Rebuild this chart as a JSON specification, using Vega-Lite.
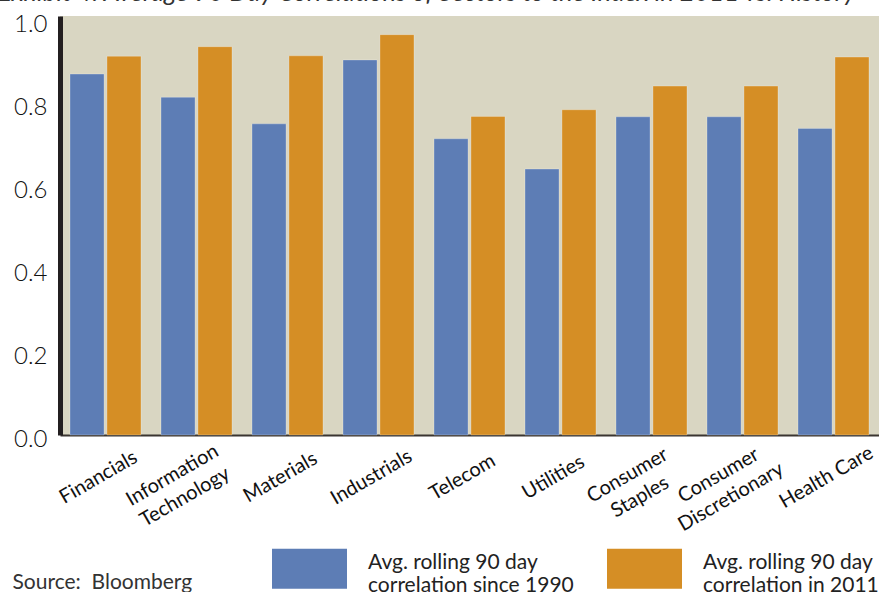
{
  "$schema": "https://vega.github.io/schema/vega-lite/v6.json",
  "autosize": {"type": "none"},
  "width": 819,
  "height": 419,
  "padding": {"left": 60, "top": 16, "right": 0, "bottom": 157},
  "background": "white",
  "config": {
    "view": {"fill": "#d9d6c2", "stroke": null},
    "font": "Lato"
  },
  "title": {
    "text": "Exhibit 4: Average 90 Day Correlations of Sectors to the Index in 2011 vs. History",
    "anchor": "start",
    "frame": "group",
    "fontStyle": "italic",
    "fontWeight": "normal",
    "fontSize": 25.5,
    "color": "#333333",
    "baseline": "alphabetic",
    "offset": 0,
    "dy": 14,
    "dx": -62
  },
  "data": {
    "values": [
      {"sector": "Financials", "series": "Avg. rolling 90 day|correlation since 1990", "value": 0.870},
      {"sector": "Financials", "series": "Avg. rolling 90 day|correlation in 2011", "value": 0.913},
      {"sector": "Information|Technology", "series": "Avg. rolling 90 day|correlation since 1990", "value": 0.814},
      {"sector": "Information|Technology", "series": "Avg. rolling 90 day|correlation in 2011", "value": 0.936},
      {"sector": "Materials", "series": "Avg. rolling 90 day|correlation since 1990", "value": 0.750},
      {"sector": "Materials", "series": "Avg. rolling 90 day|correlation in 2011", "value": 0.914},
      {"sector": "Industrials", "series": "Avg. rolling 90 day|correlation since 1990", "value": 0.904},
      {"sector": "Industrials", "series": "Avg. rolling 90 day|correlation in 2011", "value": 0.965},
      {"sector": "Telecom", "series": "Avg. rolling 90 day|correlation since 1990", "value": 0.714},
      {"sector": "Telecom", "series": "Avg. rolling 90 day|correlation in 2011", "value": 0.768},
      {"sector": "Utilities", "series": "Avg. rolling 90 day|correlation since 1990", "value": 0.641},
      {"sector": "Utilities", "series": "Avg. rolling 90 day|correlation in 2011", "value": 0.784},
      {"sector": "Consumer|Staples", "series": "Avg. rolling 90 day|correlation since 1990", "value": 0.767},
      {"sector": "Consumer|Staples", "series": "Avg. rolling 90 day|correlation in 2011", "value": 0.841},
      {"sector": "Consumer|Discretionary", "series": "Avg. rolling 90 day|correlation since 1990", "value": 0.767},
      {"sector": "Consumer|Discretionary", "series": "Avg. rolling 90 day|correlation in 2011", "value": 0.841},
      {"sector": "Health Care", "series": "Avg. rolling 90 day|correlation since 1990", "value": 0.739},
      {"sector": "Health Care", "series": "Avg. rolling 90 day|correlation in 2011", "value": 0.911}
    ]
  },
  "mark": {"type": "bar", "stroke": "#ffffff", "strokeOpacity": 0.25, "strokeWidth": 1},
  "encoding": {
    "x": {
      "field": "sector",
      "type": "nominal",
      "sort": null,
      "scale": {"paddingInner": 0.22, "paddingOuter": 0.11},
      "axis": {
        "title": "Source:\u00a0 Bloomberg",
        "titleFont": "Lato",
        "titleFontSize": 21,
        "titleFontWeight": "normal",
        "titleColor": "#333333",
        "titleAnchor": "start",
        "titleAlign": "left",
        "titleBaseline": "alphabetic",
        "titleX": -48,
        "titleY": 153,
        "labelExpr": "split(datum.label, '|')",
        "labelAngle": -30,
        "labelAlign": "center",
        "labelBaseline": "middle",
        "labelFontSize": 20,
        "labelLineHeight": 25,
        "labelColor": "#111111",
        "labelPadding": {"condition": {"test": "indexof(datum.value, '|') >= 0", "value": 40}, "value": 42},
        "labelOffset": {"condition": {"test": "indexof(datum.value, '|') >= 0", "value": -24}, "value": -7},
        "labelOverlap": false,
        "labelLimit": 0,
        "ticks": false,
        "tickSize": 0,
        "domainColor": "#3a3530",
        "domainWidth": 2
      }
    },
    "xOffset": {
      "field": "series",
      "type": "nominal",
      "sort": null,
      "scale": {"paddingInner": 0.08, "paddingOuter": 0}
    },
    "y": {
      "field": "value",
      "type": "quantitative",
      "scale": {"domain": [0, 1.01], "nice": false, "zero": true},
      "axis": {
        "title": null,
        "values": [0, 0.2, 0.4, 0.6, 0.8, 1.0],
        "format": ".1f",
        "grid": false,
        "ticks": false,
        "tickSize": 0,
        "labelFontSize": 24,
        "labelFontWeight": 300,
        "labelColor": "#111111",
        "labelPadding": 13,
        "labelOffset": 4,
        "domainColor": "#231f20",
        "domainWidth": 5
      }
    },
    "color": {
      "field": "series",
      "type": "nominal",
      "sort": null,
      "scale": {"range": ["#5d7db5", "#d58e25"]},
      "legend": {
        "title": null,
        "orient": "none",
        "direction": "horizontal",
        "legendX": 212,
        "legendY": 515,
        "symbolType": "M-1,-0.533H1V0.533H-1Z",
        "symbolSize": 5625,
        "symbolStrokeWidth": 0,
        "symbolOpacity": 1,
        "labelExpr": "split(datum.label, '|')",
        "labelFontSize": 21,
        "labelLineHeight": 23,
        "labelBaseline": "alphabetic",
        "labelColor": "#222222",
        "labelOffset": 21,
        "labelLimit": 0,
        "columnPadding": 33,
        "padding": 0
      }
    }
  }
}
